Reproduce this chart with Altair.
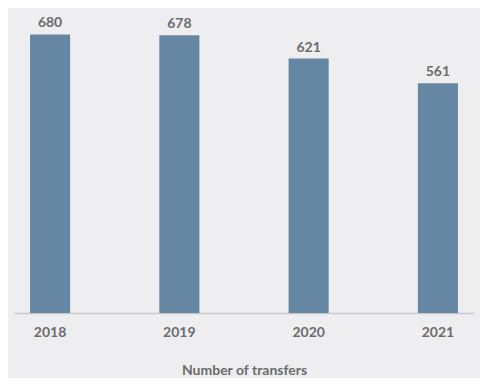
import altair as alt
import pandas as pd

years = ["2018", "2019", "2020", "2021"]
transfers = [680, 678, 621, 561]

df = pd.DataFrame({"year": years, "value": transfers})

FONT = "Lato"
GRAY = "#6b6b6b"

base = alt.Chart(df).encode(
    x=alt.X(
        "year:N",
        sort=years,
        scale=alt.Scale(paddingInner=0.69, paddingOuter=0.124),
        axis=alt.Axis(
            title="Number of transfers",
            labelAngle=0,
            labelFont=FONT,
            labelFontSize=14,
            labelFontWeight="bold",
            labelColor=GRAY,
            labelPadding=12,
            titleFont=FONT,
            titleFontSize=14,
            titleFontWeight="bold",
            titleColor=GRAY,
            titlePadding=24,
            domainColor="#c9c9cd",
            domainWidth=1.5,
            ticks=False,
        ),
    ),
    y=alt.Y(
        "value:Q",
        scale=alt.Scale(domain=[0, 720], nice=False),
        axis=None,
    ),
)

bars = base.mark_bar(color="#6687a3")
labels = base.mark_text(
    dy=-11, font=FONT, fontSize=14, fontWeight="bold", color=GRAY
).encode(text="value:Q")

chart = (
    (bars + labels)
    .properties(
        width=460,
        height=295,
        background="#eeeef1",
        padding={"left": 6, "right": 6, "top": 10, "bottom": 65},
        autosize=alt.AutoSizeParams(type="none"),
    )
    .configure_view(stroke=None)
)

chart.save("out.html", embed_options={"renderer": "svg", "actions": False})
